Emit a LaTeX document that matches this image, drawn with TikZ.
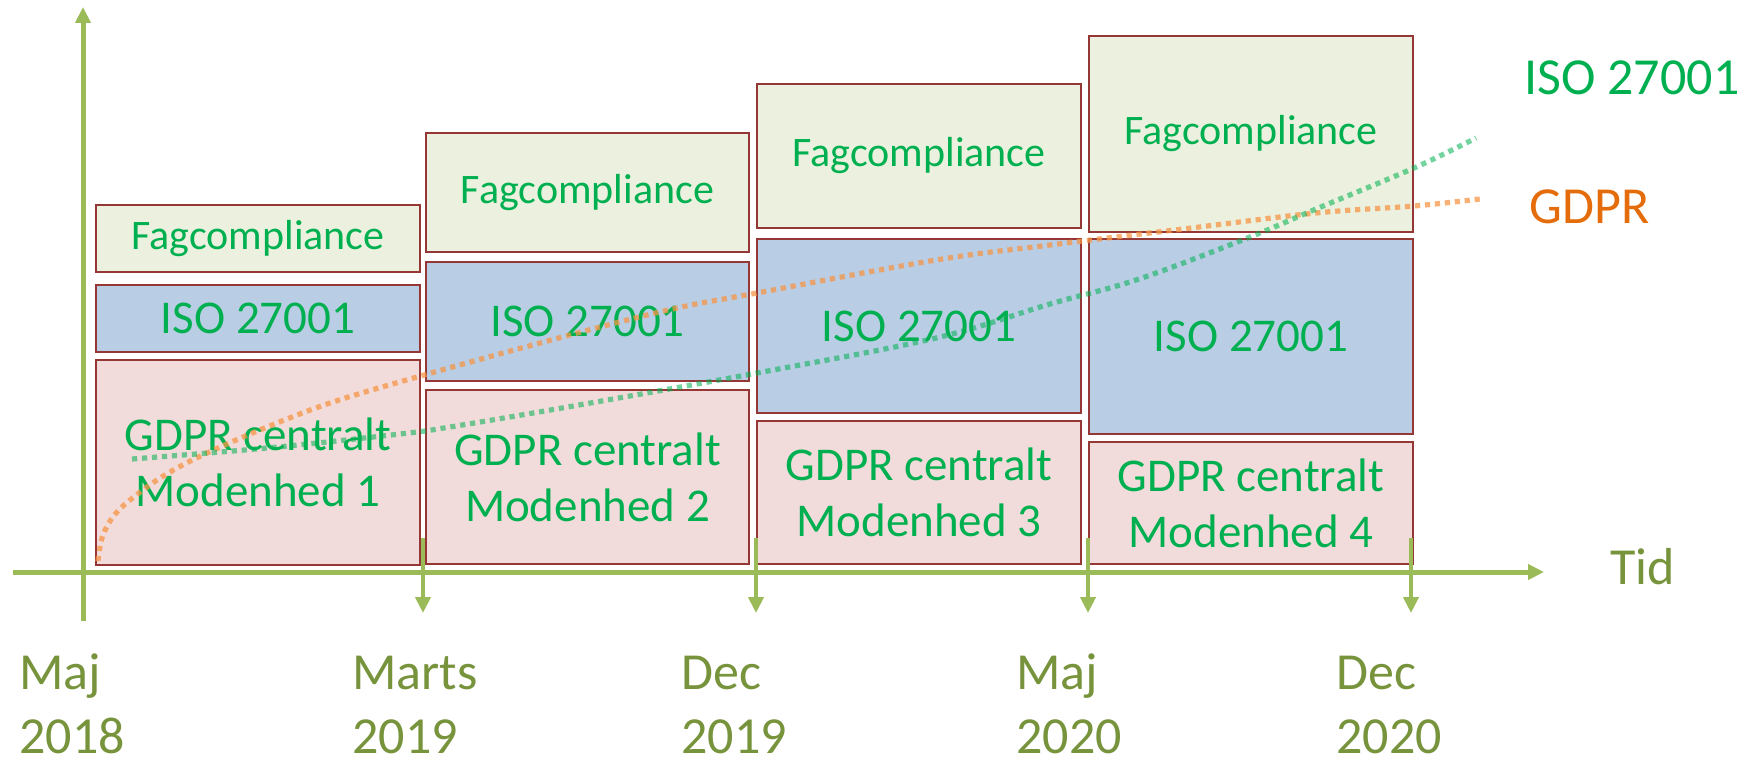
\documentclass[tikz,border=0pt]{standalone}
\usepackage{fontspec}
\setmainfont{Carlito}
\usetikzlibrary{arrows.meta}
\definecolor{axisgreen}{HTML}{9BBB59}
\definecolor{olivetxt}{HTML}{77933C}
\definecolor{txtgreen}{HTML}{00B050}
\definecolor{txtorange}{HTML}{E46C0A}
\definecolor{boxborder}{HTML}{953735}
\definecolor{fagfill}{HTML}{EBF1DE}
\definecolor{isofill}{HTML}{B9CDE5}
\definecolor{gdprfill}{HTML}{F2DCDB}
\definecolor{dotorange}{HTML}{F79646}
\begin{document}
\begin{tikzpicture}[x=0.5pt,y=-0.5pt,
  box/.style={draw=boxborder, line width=1pt, inner sep=0pt, outer sep=0pt, text=txtgreen, align=center, font=\fontsize{23.5}{28}\selectfont},
  fagbox/.style={box, fill=fagfill, font=\fontsize{21}{25}\selectfont},
  isobox/.style={box, fill=isofill},
  gdprbox/.style={box, fill=gdprfill},
  axisline/.style={draw=axisgreen, line width=2.5pt, -{Triangle[length=8pt,width=7.5pt]}},
  tickline/.style={draw=axisgreen, line width=2pt, -{Triangle[length=8pt,width=7.5pt]}},
  datelbl/.style={text=olivetxt, font=\fontsize{26}{32}\selectfont, align=left, anchor=base west, inner sep=0pt},
  sidelbl/.style={font=\fontsize{26}{32}\selectfont, anchor=base west, inner sep=0pt},
  gdprcurve/.style={draw=dotorange, draw opacity=0.75, line width=2.6pt, dash pattern=on 2.6pt off 2.4pt},
  isocurve/.style={draw=txtgreen, draw opacity=0.55, line width=2.6pt, dash pattern=on 2.6pt off 2.4pt}
]
\useasboundingbox (0,0) rectangle (1746,759);

% axes
\coordinate (yb) at (83,621);
\coordinate (yt) at (83,7);
\coordinate (xl) at (13,572);
\coordinate (xr) at (1544,572);
\draw[axisline] (yb) -- (yt);
\draw[axisline] (xl) -- (xr);

% column 1
\node[fagbox, minimum width=162pt, minimum height=33.5pt] (f1) at (258,238.5) {Fagcompliance};
\node[isobox, minimum width=162pt, minimum height=33.5pt] (i1) at (258,318.5) {ISO 27001};
\node[gdprbox, minimum width=162pt, minimum height=102.5pt] (g1) at (258,462.5) {GDPR centralt\\Modenhed 1};
% column 2
\node[fagbox, minimum width=161.5pt, minimum height=59.5pt] (f2) at (587.5,192.5) {Fagcompliance};
\node[isobox, minimum width=161.5pt, minimum height=59.5pt] (i2) at (587.5,321.5) {ISO 27001};
\node[gdprbox, minimum width=161.5pt, minimum height=87pt] (g2) at (587.5,477) {GDPR centralt\\Modenhed 2};
% column 3
\node[fagbox, minimum width=162pt, minimum height=72pt] (f3) at (919,156) {Fagcompliance};
\node[isobox, minimum width=162pt, minimum height=87pt] (i3) at (919,326) {ISO 27001};
\node[gdprbox, minimum width=162pt, minimum height=71.5pt] (g3) at (919,492.5) {GDPR centralt\\Modenhed 3};
% column 4
\node[fagbox, minimum width=162pt, minimum height=98pt] (f4) at (1251,134) {Fagcompliance};
\node[isobox, minimum width=162pt, minimum height=97.5pt] (i4) at (1251,336.5) {ISO 27001};
\node[gdprbox, minimum width=162pt, minimum height=61pt] (g4) at (1251,503) {GDPR centralt\\Modenhed 4};

% ticks
\coordinate (t1s) at (423,538);  \coordinate (t1e) at (423,613);
\coordinate (t2s) at (756,538);  \coordinate (t2e) at (756,613);
\coordinate (t3s) at (1088,538); \coordinate (t3e) at (1088,613);
\coordinate (t4s) at (1411,538); \coordinate (t4e) at (1411,613);
\draw[tickline] (t1s) -- (t1e);
\draw[tickline] (t2s) -- (t2e);
\draw[tickline] (t3s) -- (t3e);
\draw[tickline] (t4s) -- (t4e);

% trend curves
\draw[gdprcurve] plot[smooth, tension=0.6] coordinates {(98,561) (103,535) (117,512) (143,490) (170,472) (207,453) (267,427) (333,402) (417,377) (540,343) (668,310) (757,293) (936,260) (1050,245) (1183,229) (1316,213) (1414,206) (1480,199)};
\draw[isocurve] plot[smooth, tension=0.6] coordinates {(132,459) (267,448) (400,434) (450,427) (579,405) (757,373) (936,338) (1050,304) (1139,279) (1250,237) (1316,209) (1414,168) (1476,138)};

% side labels
\node[sidelbl, text=txtgreen] (isolbl) at (1524,95) {ISO 27001};
\node[sidelbl, text=txtorange] (gdprlbl) at (1529,224) {GDPR};
\node[sidelbl, text=olivetxt] (tid) at (1610,584) {Tid};

% date labels (anchor on baseline of last line)
\node[datelbl] (d1) at (19,753) {Maj\\2018};
\node[datelbl] (d2) at (352,753) {Marts\\2019};
\node[datelbl] (d3) at (681,753) {Dec\\2019};
\node[datelbl] (d4) at (1016,753) {Maj\\2020};
\node[datelbl] (d5) at (1336,753) {Dec\\2020};
\end{tikzpicture}
\end{document}
